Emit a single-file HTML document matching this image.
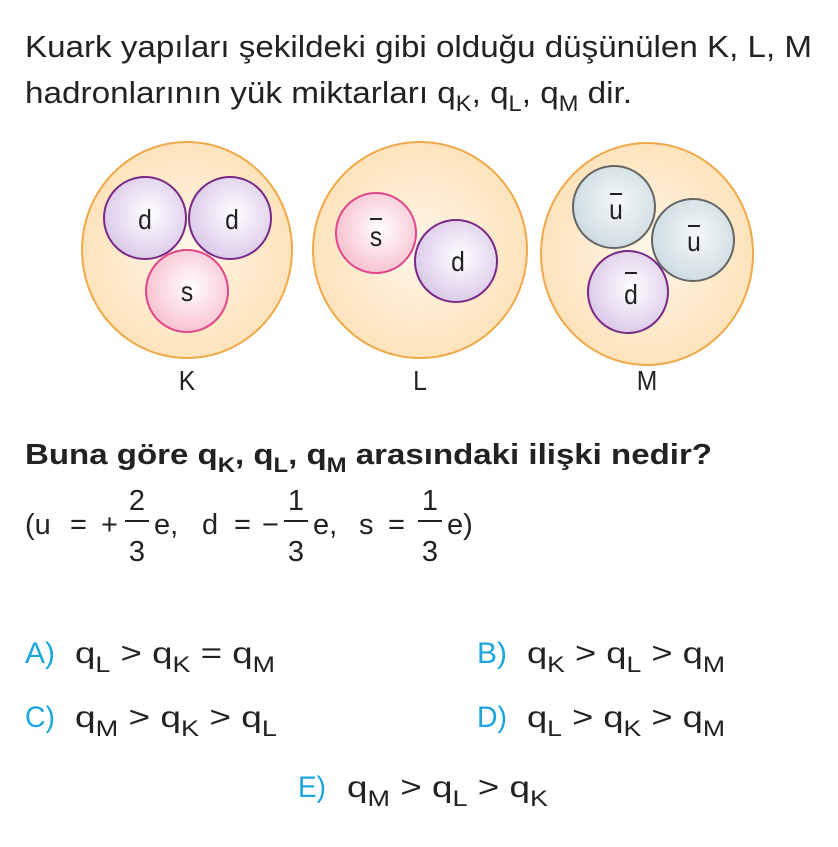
<!DOCTYPE html>
<html><head><meta charset="utf-8"><style>
html,body{margin:0;padding:0;background:#fff;}
svg{display:block;font-family:"Liberation Sans",Arial,sans-serif;}
</style></head><body>
<svg width="838" height="847" viewBox="0 0 838 847" xmlns="http://www.w3.org/2000/svg">
<defs>
<radialGradient id="bg" cx="50%" cy="50%" r="50%"><stop offset="0" stop-color="#fff7ea"/><stop offset="1" stop-color="#fde3bb"/></radialGradient>
<radialGradient id="pu" cx="55%" cy="45%" r="55%"><stop offset="0" stop-color="#ffffff"/><stop offset="1" stop-color="#dccbea"/></radialGradient>
<radialGradient id="pk" cx="55%" cy="45%" r="55%"><stop offset="0" stop-color="#ffffff"/><stop offset="1" stop-color="#f8c3d1"/></radialGradient>
<radialGradient id="gr" cx="55%" cy="45%" r="55%"><stop offset="0" stop-color="#f4f8f9"/><stop offset="1" stop-color="#cfdde2"/></radialGradient>
</defs>
<g font-size="31" fill="#222">
<text x="25" y="57" textLength="787" lengthAdjust="spacingAndGlyphs">Kuark yapıları şekildeki gibi olduğu düşünülen K, L, M</text>
<text x="25" y="103" textLength="607" lengthAdjust="spacingAndGlyphs">hadronlarının yük miktarları q<tspan font-size="22" dy="8">K</tspan><tspan dy="-8">, q</tspan><tspan font-size="22" dy="8">L</tspan><tspan dy="-8">, q</tspan><tspan font-size="22" dy="8">M</tspan><tspan dy="-8"> dir.</tspan></text>
</g>
<!-- K -->
<ellipse cx="187" cy="250" rx="105" ry="108" fill="url(#bg)" stroke="#f0a94a" stroke-width="2"/>
<ellipse cx="145" cy="218" rx="41" ry="41" fill="url(#pu)" stroke="#7a2a86" stroke-width="2"/>
<ellipse cx="230" cy="218" rx="41" ry="41" fill="url(#pu)" stroke="#7a2a86" stroke-width="2"/>
<ellipse cx="187" cy="291" rx="41" ry="41" fill="url(#pk)" stroke="#e0468a" stroke-width="2"/>
<!-- L -->
<ellipse cx="420" cy="250" rx="107" ry="108" fill="url(#bg)" stroke="#f0a94a" stroke-width="2"/>
<ellipse cx="376" cy="233" rx="40" ry="40" fill="url(#pk)" stroke="#e0468a" stroke-width="2"/>
<ellipse cx="456" cy="261" rx="41" ry="41" fill="url(#pu)" stroke="#7a2a86" stroke-width="2"/>
<!-- M -->
<ellipse cx="647" cy="254" rx="106" ry="111" fill="url(#bg)" stroke="#f0a94a" stroke-width="2"/>
<ellipse cx="614" cy="207" rx="41" ry="41" fill="url(#gr)" stroke="#666" stroke-width="2"/>
<ellipse cx="693" cy="240" rx="41" ry="41" fill="url(#gr)" stroke="#666" stroke-width="2"/>
<ellipse cx="628" cy="292" rx="40" ry="41" fill="url(#pu)" stroke="#7a2a86" stroke-width="2"/>
<g font-size="28" fill="#222" text-anchor="middle">
<text x="145" y="229" transform="translate(145 0) scale(0.88 1) translate(-145 0)">d</text>
<text x="232" y="229" transform="translate(232 0) scale(0.88 1) translate(-232 0)">d</text>
<text x="187" y="301" transform="translate(187 0) scale(0.88 1) translate(-187 0)">s</text>
<text x="376" y="246" transform="translate(376 0) scale(0.88 1) translate(-376 0)">s</text><line x1="370" y1="219" x2="382" y2="219" stroke="#222" stroke-width="2"/>
<text x="458" y="271" transform="translate(458 0) scale(0.88 1) translate(-458 0)">d</text>
<text x="616" y="219" transform="translate(616 0) scale(0.88 1) translate(-616 0)">u</text><line x1="610" y1="194" x2="622" y2="194" stroke="#222" stroke-width="2"/>
<text x="694" y="251" transform="translate(694 0) scale(0.88 1) translate(-694 0)">u</text><line x1="688" y1="226" x2="700" y2="226" stroke="#222" stroke-width="2"/>
<text x="631" y="304" transform="translate(631 0) scale(0.88 1) translate(-631 0)">d</text><line x1="625" y1="273" x2="637" y2="273" stroke="#222" stroke-width="2"/>
<text x="187" y="390" transform="translate(187 0) scale(0.88 1) translate(-187 0)">K</text>
<text x="420" y="390" transform="translate(420 0) scale(0.88 1) translate(-420 0)">L</text>
<text x="647" y="390" transform="translate(647 0) scale(0.88 1) translate(-647 0)">M</text>
</g>
<g font-size="29" fill="#222">
<text x="25" y="464" font-weight="bold" textLength="687" lengthAdjust="spacingAndGlyphs">Buna göre q<tspan font-size="21" dy="8">K</tspan><tspan dy="-8">, q</tspan><tspan font-size="21" dy="8">L</tspan><tspan dy="-8">, q</tspan><tspan font-size="21" dy="8">M</tspan><tspan dy="-8"> arasındaki ilişki nedir?</tspan></text>
<text x="25" y="534">(u</text>
<text x="70" y="534">=</text>
<text x="101" y="534">+</text>
<text x="137" y="510" text-anchor="middle">2</text><line x1="125" y1="521" x2="149" y2="521" stroke="#222" stroke-width="2"/><text x="137" y="561" text-anchor="middle">3</text>
<text x="154" y="534">e,</text>
<text x="202" y="534">d</text>
<text x="234" y="534">=</text>
<text x="262" y="534">−</text>
<text x="296" y="510" text-anchor="middle">1</text><line x1="284" y1="521" x2="308" y2="521" stroke="#222" stroke-width="2"/><text x="296" y="561" text-anchor="middle">3</text>
<text x="313" y="534">e,</text>
<text x="359" y="534">s</text>
<text x="388" y="534">=</text>
<text x="430" y="510" text-anchor="middle">1</text><line x1="418" y1="521" x2="442" y2="521" stroke="#222" stroke-width="2"/><text x="430" y="561" text-anchor="middle">3</text>
<text x="447" y="534">e)</text>
</g>
<g font-size="30" fill="#222">
<text x="25" y="663" fill="#1ba6dd" textLength="30" lengthAdjust="spacingAndGlyphs">A)</text>
<text x="75" y="663" textLength="200" lengthAdjust="spacingAndGlyphs">q<tspan font-size="22" dy="9">L</tspan><tspan dy="-9"> &gt; q</tspan><tspan font-size="22" dy="9">K</tspan><tspan dy="-9"> = q</tspan><tspan font-size="22" dy="9">M</tspan></text>
<text x="477" y="663" fill="#1ba6dd" textLength="30" lengthAdjust="spacingAndGlyphs">B)</text>
<text x="527" y="663" textLength="198" lengthAdjust="spacingAndGlyphs">q<tspan font-size="22" dy="9">K</tspan><tspan dy="-9"> &gt; q</tspan><tspan font-size="22" dy="9">L</tspan><tspan dy="-9"> &gt; q</tspan><tspan font-size="22" dy="9">M</tspan></text>
<text x="25" y="727" fill="#1ba6dd" textLength="30" lengthAdjust="spacingAndGlyphs">C)</text>
<text x="75" y="727" textLength="202" lengthAdjust="spacingAndGlyphs">q<tspan font-size="22" dy="9">M</tspan><tspan dy="-9"> &gt; q</tspan><tspan font-size="22" dy="9">K</tspan><tspan dy="-9"> &gt; q</tspan><tspan font-size="22" dy="9">L</tspan></text>
<text x="477" y="727" fill="#1ba6dd" textLength="30" lengthAdjust="spacingAndGlyphs">D)</text>
<text x="527" y="727" textLength="198" lengthAdjust="spacingAndGlyphs">q<tspan font-size="22" dy="9">L</tspan><tspan dy="-9"> &gt; q</tspan><tspan font-size="22" dy="9">K</tspan><tspan dy="-9"> &gt; q</tspan><tspan font-size="22" dy="9">M</tspan></text>
<text x="298" y="797" fill="#1ba6dd" textLength="28" lengthAdjust="spacingAndGlyphs">E)</text>
<text x="347" y="797" textLength="201" lengthAdjust="spacingAndGlyphs">q<tspan font-size="22" dy="9">M</tspan><tspan dy="-9"> &gt; q</tspan><tspan font-size="22" dy="9">L</tspan><tspan dy="-9"> &gt; q</tspan><tspan font-size="22" dy="9">K</tspan></text>
</g>
</svg>
</body></html>
